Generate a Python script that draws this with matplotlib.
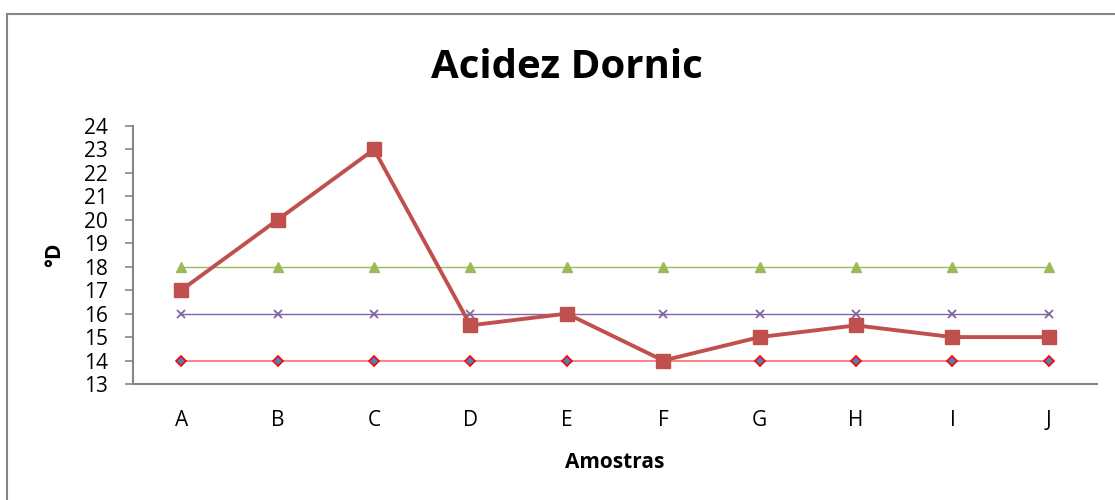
import matplotlib
matplotlib.use("Agg")
import matplotlib.pyplot as plt
from matplotlib.patches import Rectangle

# data
amostras = ["A", "B", "C", "D", "E", "F", "G", "H", "I", "J"]
acidez = [17, 20, 23, 15.5, 16, 14, 15, 15.5, 15, 15]
limite_min = [14] * 10
limite_med = [16] * 10
limite_max = [18] * 10

plt.rcParams["font.family"] = ["Open Sans", "DejaVu Sans"]

fig = plt.figure(figsize=(11.15, 5), dpi=100)
ax = fig.add_axes([0.1193, 0.232, 0.8646, 0.516])

# outer chart frame (cut off on right and bottom like the reference)
fig.patches.append(Rectangle((7 / 1115, -0.1), 1.2, 1 - 14 / 500 + 0.1,
                             transform=fig.transFigure, fill=False,
                             edgecolor="#868686", linewidth=1.5))

x = range(len(amostras))
ax.plot(x, limite_max, color="#9BBB59", linewidth=1, marker="^", markersize=7,
        markerfacecolor="#9BBB59", markeredgecolor="#9BBB59")
ax.plot(x, limite_med, color="#8064A2", linewidth=1, marker="x", markersize=6,
        markeredgewidth=1.3)
ax.plot(x, limite_min, color="#FF6B6B", linewidth=1.2, marker="D", markersize=5,
        markerfacecolor="#4F81BD", markeredgecolor="#FF0000", markeredgewidth=1.2)
ax.plot(x, acidez, color="#C0504D", linewidth=2.8, marker="s", markersize=10,
        markerfacecolor="#C0504D", markeredgecolor="#C0504D", zorder=5)

ax.set_xlim(-0.5, len(amostras) - 0.5)
ax.set_ylim(13, 24)
ax.set_yticks(range(13, 25))
ax.set_xticks(list(x))
ax.set_xticklabels(amostras)
ax.tick_params(axis="y", length=6, color="#868686", width=1.2, labelsize=15, pad=12)
ax.tick_params(axis="x", length=0, labelsize=15, pad=19)

for s in ["top", "right"]:
    ax.spines[s].set_visible(False)
for s in ["left", "bottom"]:
    ax.spines[s].set_color("#868686")
    ax.spines[s].set_linewidth(1.5)

fig.text(567 / 1115, 1 - 68 / 500, "Acidez Dornic", ha="center", va="center",
         fontsize=29, fontweight="bold")
ax.set_xlabel("Amostras", fontsize=15, fontweight="bold", labelpad=15)
fig.text(55 / 1115, 1 - 255 / 500, "°D", rotation=90, ha="center", va="center",
         fontsize=15, fontweight="bold")

fig.savefig("out.png", dpi=100)
